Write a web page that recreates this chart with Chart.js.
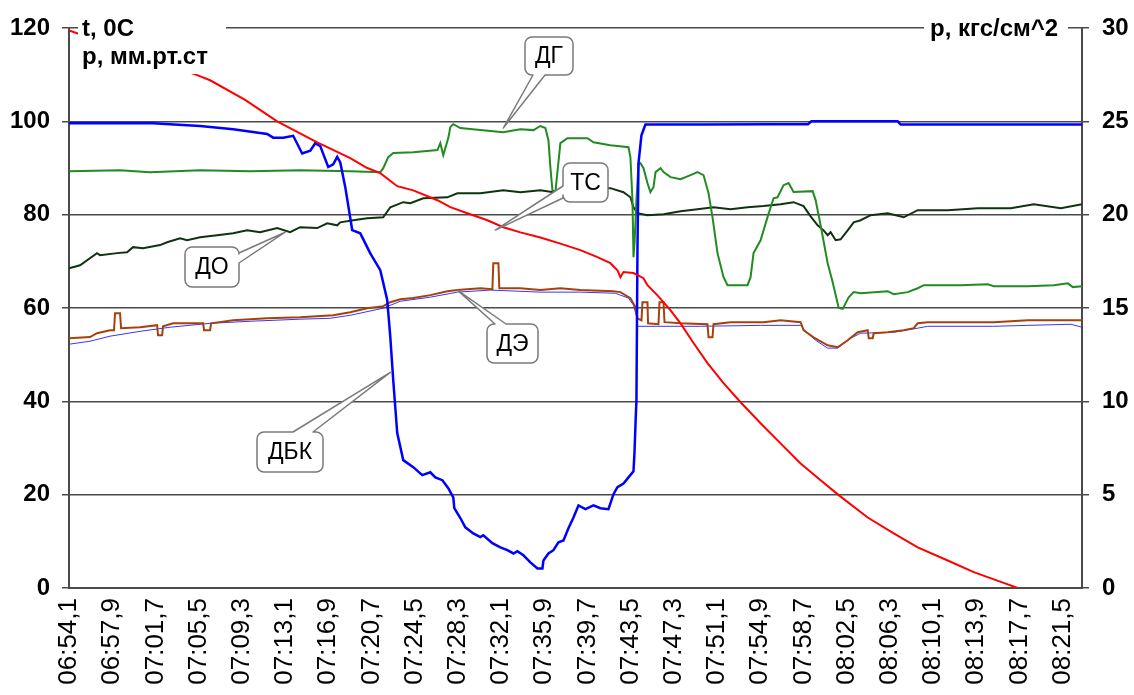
<!DOCTYPE html>
<html>
<head>
<meta charset="utf-8">
<script src="https://cdn.jsdelivr.net/npm/chart.js@4.4.1/dist/chart.umd.min.js"></script>
<style>
  html, body { margin: 0; padding: 0; background: #fff; }
  canvas { display: block; }
</style>
</head>
<body>
<canvas id="chart" width="1134" height="695"></canvas>
<script>
// Time axis: minutes since 06:54,1; a label every 3,8 min
const tickLabels = ['06:54,1','06:57,9','07:01,7','07:05,5','07:09,3','07:13,1','07:16,9','07:20,7',
  '07:24,5','07:28,3','07:32,1','07:35,9','07:39,7','07:43,5','07:47,3','07:51,1','07:54,9','07:58,7',
  '08:02,5','08:06,3','08:10,1','08:13,9','08:17,7','08:21,5'];
const tickMinutes = [0, 3.8, 7.6, 11.4, 15.2, 19.0, 22.8, 26.6, 30.4, 34.2, 38.0, 41.8, 45.6, 49.4,
  53.2, 57.0, 60.8, 64.6, 68.4, 72.2, 76.0, 79.8, 83.6, 87.4];
const timeMax = 89.1;

// ТС — temperature, °C (left axis)
const tsMin = [0, 11.27, 12.41, 15.49, 18.31, 21.83, 24.74, 26.23, 27.38, 28.87, 30.28, 32.40, 33.54,
  35.04, 36.80, 38.20, 39.70, 41.46, 43.22, 44.98, 46.48, 47.62, 48.24, 48.50, 48.77, 49.65, 50.53,
  50.88, 51.76, 52.91, 53.79, 54.93, 56.16, 57.57, 59.07, 60.83, 62.59, 64.35, 66.11, 67.70, 70.25,
  72.54, 74.65, 77.29, 79.58, 81.96, 83.45];
const tsVal = [119.5, 109.9, 108.8, 104.6, 100.0, 95.5, 92.1, 90.0, 88.9, 86.1, 85.2, 83.1, 81.6,
  80.3, 78.8, 77.3, 76.2, 75.1, 73.8, 72.4, 70.9, 69.6, 68.1, 66.6, 67.7, 67.5, 66.4,
  64.9, 62.7, 59.5, 56.7, 52.5, 48.2, 43.9, 39.8, 35.3, 31.0, 26.7, 23.1, 19.9, 15.1,
  11.7, 8.7, 5.9, 3.4, 1.3, 0];

// ДБК — pressure, мм.рт.ст (left axis)
const dbkMin = [0, 7.39, 11.53, 14.44, 17.43, 17.96, 18.84, 19.72, 20.51, 21.22, 21.66, 22.10, 22.80,
  23.24, 23.59, 23.86, 24.30, 24.91, 25.62, 26.50, 27.38, 27.99, 28.26, 28.52, 28.87, 29.40, 30.28,
  31.07, 31.78, 32.22, 32.84, 33.36, 33.80, 33.89, 34.42, 34.86, 35.56, 36.18, 36.44, 37.24, 37.94,
  38.56, 39.09, 39.44, 39.97, 40.58, 41.20, 41.64, 41.73, 42.17, 42.61, 43.05, 43.49, 43.93, 44.37,
  44.81, 45.42, 46.13, 46.74, 47.45, 47.89, 48.24, 48.77, 49.21, 49.65, 49.74, 49.83, 49.91, 50.00,
  50.09, 50.35, 50.70, 55.55, 61.71, 65.00, 65.30, 72.89, 73.15, 89.1];
const dbkVal = [99.6, 99.6, 99.0, 98.3, 97.3, 96.5, 96.5, 96.9, 93.1, 93.7, 95.3, 94.7, 90.2,
  90.8, 92.4, 91.2, 85.9, 76.7, 76.0, 71.7, 68.1, 61.7, 53.8, 44.5, 33.2, 27.4, 25.9,
  24.2, 24.8, 23.7, 23.1, 21.4, 19.4, 17.1, 15.0, 13.0, 11.7, 10.9, 11.3, 9.6, 8.7,
  8.1, 7.4, 7.9, 7.0, 5.5, 4.2, 4.2, 5.9, 7.4, 8.1, 9.8, 10.2, 12.8, 15.1,
  17.7, 16.9, 17.7, 17.1, 16.9, 20.1, 21.6, 22.4, 23.7, 25.0, 29.1, 35.3, 40.2, 72.4,
  91.0, 97.0, 99.3, 99.3, 99.4, 99.4, 100.0, 100.0, 99.3, 99.3];

// ДГ — pressure, кгс/см^2 (right axis)
const dgMin = [0, 4.49, 7.13, 11.53, 15.93, 20.33, 24.74, 27.38, 27.64, 28.08, 28.52, 30.28, 32.40,
  32.66, 32.92, 33.36, 33.54, 33.80, 34.42, 36.18, 38.20, 39.70, 40.85, 41.46, 41.90, 42.17, 42.34,
  42.52, 42.78, 43.22, 43.84, 45.60, 46.13, 47.62, 49.21, 49.38, 49.56, 49.65, 49.74, 49.91, 50.09,
  50.26, 50.53, 50.88, 51.14, 51.41, 51.59, 52.03, 52.29, 52.91, 53.79, 54.67, 55.28, 55.81, 56.25,
  56.60, 57.04, 57.57, 57.92, 59.68, 59.95, 60.21, 60.83, 61.44, 61.97, 62.32, 62.85, 63.29, 63.73,
  65.41, 65.67, 66.11, 66.73, 67.17, 67.70, 68.05, 68.58, 69.02, 69.63, 72.01, 72.54, 73.77, 74.65,
  75.18, 78.44, 80.81, 81.34, 84.33, 86.62, 87.85, 88.29, 89.1];
const dgVal = [22.33, 22.38, 22.27, 22.38, 22.33, 22.38, 22.33, 22.27, 22.49, 23.08, 23.30, 23.35, 23.46,
  23.83, 23.19, 24.10, 24.69, 24.85, 24.64, 24.53, 24.42, 24.58, 24.53, 24.75, 24.64, 23.99, 22.55,
  21.31, 21.21, 23.83, 24.10, 24.10, 23.88, 23.72, 23.61, 23.08, 20.78, 17.72, 18.47, 20.78, 22.71,
  22.76, 22.49, 21.69, 21.21, 21.47, 22.28, 22.49, 22.28, 22.01, 21.90, 22.12, 22.28, 22.12, 21.15,
  19.87, 17.94, 16.65, 16.22, 16.22, 16.65, 17.94, 18.63, 19.87, 20.88, 20.93, 21.58, 21.69, 21.21,
  21.26, 20.78, 19.43, 17.40, 16.38, 15.00, 14.95, 15.57, 15.85, 15.79, 15.90, 15.74, 15.85, 16.06,
  16.22, 16.22, 16.27, 16.17, 16.17, 16.22, 16.32, 16.12, 16.17];

// ДО — pressure, кгс/см^2 (right axis)
const doMin = [0, 0.97, 2.46, 2.73, 4.23, 5.11, 5.63, 6.51, 8.01, 8.63, 9.77, 10.39, 11.53, 13.03,
  14.44, 15.67, 16.81, 18.31, 19.45, 20.33, 21.83, 22.71, 23.59, 23.86, 25.00, 26.23, 27.64, 28.26,
  29.40, 30.02, 31.16, 33.28, 34.16, 36.18, 38.20, 39.70, 41.46, 42.61, 43.40, 47.62, 48.77, 49.38,
  49.65, 50.00, 50.88, 52.29, 53.79, 55.28, 56.69, 58.19, 59.68, 61.09, 62.59, 63.73, 64.61, 65.23,
  65.85, 66.37, 66.73, 66.99, 67.43, 67.87, 68.49, 69.02, 69.63, 70.51, 72.01, 73.42, 74.65, 77.29,
  79.93, 82.84, 84.86, 87.24, 89.1];
const doVal = [17.13, 17.29, 17.94, 17.83, 17.94, 17.99, 18.26, 18.20, 18.37, 18.52, 18.74, 18.63, 18.79, 18.90,
  19.01, 19.17, 19.06, 19.28, 19.06, 19.33, 19.28, 19.54, 19.43, 19.59, 19.70, 19.81, 19.86, 20.40,
  20.67, 20.61, 20.88, 20.93, 21.15, 21.15, 21.31, 21.20, 21.31, 21.20, 21.42, 21.42, 21.20, 20.93,
  20.40, 20.08, 19.97, 20.02, 20.18, 20.29, 20.40, 20.29, 20.40, 20.46, 20.56, 20.67, 20.46, 19.91,
  19.43, 19.16, 18.90, 19.06, 18.63, 18.68, 19.16, 19.59, 19.70, 19.97, 20.08, 19.86, 20.24, 20.24,
  20.35, 20.35, 20.56, 20.35, 20.56];

// ДЭ — pressure, кгс/см^2 (right axis)
const deMin = [0, 1.85, 2.46, 3.61, 3.96, 4.05, 4.49, 4.58, 6.25, 7.75, 7.83, 8.19, 8.27, 9.16, 11.80,
  11.88, 12.41, 12.50, 14.44, 17.43, 20.33, 23.24, 24.74, 26.23, 27.64, 28.26, 29.14, 30.28, 31.78,
  33.28, 34.16, 36.18, 37.24, 37.32, 37.77, 37.85, 39.70, 41.46, 43.22, 44.98, 47.89, 48.50, 49.38,
  49.83, 50.00, 50.35, 50.44, 50.88, 50.93, 51.85, 51.94, 52.29, 52.38, 53.79, 56.16, 56.25, 56.60,
  56.69, 58.19, 61.09, 62.59, 64.35, 64.61, 65.49, 66.73, 67.61, 68.49, 69.37, 70.25, 70.34, 70.69,
  70.78, 72.01, 73.42, 74.30, 74.65, 75.53, 78.44, 81.34, 84.33, 87.24, 89.1];
const deVal = [13.38, 13.44, 13.65, 13.81, 13.81, 14.72, 14.72, 13.92, 13.97, 14.08, 13.54, 13.54, 14.02, 14.18, 14.18,
  13.81, 13.81, 14.18, 14.34, 14.45, 14.51, 14.61, 14.77, 14.99, 15.10, 15.31, 15.47, 15.53, 15.69,
  15.90, 15.96, 16.06, 16.01, 17.40, 17.40, 16.06, 16.06, 15.96, 16.06, 15.96, 15.90, 15.85, 15.53,
  15.04, 14.45, 14.34, 15.31, 15.31, 14.18, 14.13, 15.31, 15.31, 14.24, 14.18, 14.13, 13.43, 13.43,
  14.13, 14.24, 14.24, 14.34, 14.24, 13.81, 13.43, 13.00, 12.90, 13.27, 13.70, 13.81, 13.38, 13.38,
  13.65, 13.70, 13.81, 13.92, 14.18, 14.24, 14.24, 14.24, 14.34, 14.34, 14.34];

// Second ДЭ trace (thin line under ДЭ), кгс/см^2 (right axis)
const de2Min = [0, 1.85, 3.61, 6.25, 8.89, 12.41, 15.93, 20.33, 22.98, 24.74, 27.64, 29.14, 31.78,
  34.16, 37.06, 41.46, 44.98, 48.06, 49.21, 49.65, 49.91, 50.00, 55.55, 60.83, 64.35, 64.79, 65.67,
  66.73, 67.61, 68.75, 69.63, 72.54, 74.65, 75.53, 81.34, 84.33, 88.12, 89.1];
const de2Val = [13.06, 13.22, 13.49, 13.75, 13.97, 14.18, 14.29, 14.40, 14.45, 14.61, 14.99, 15.36, 15.58,
  15.85, 15.96, 15.85, 15.85, 15.79, 15.53, 15.15, 14.56, 14.02, 14.02, 14.07, 14.07, 13.75, 13.27,
  12.85, 12.85, 13.38, 13.65, 13.70, 13.92, 14.02, 14.02, 14.07, 14.13, 13.97];

const pts = (xs, ys) => xs.map((x, i) => ({ x, y: ys[i] }));

// Callout labels: box in canvas pixels, wedge tip anchored to a data point
const callouts = [
  { text: 'ДГ',  box: [525, 37, 48, 38],  side: 'bottom', base: [533, 545], at: [38.20, 24.64], axis: 'y1' },
  { text: 'ТС',  box: [563, 163, 45, 39], side: 'left',   base: [186, 198], at: [37.50, 76.7],  axis: 'y'  },
  { text: 'ДО',  box: [185, 247, 54, 40], side: 'right',  base: [253, 263], at: [19.01, 19.06], axis: 'y1' },
  { text: 'ДЭ',  box: [487, 324, 51, 39], side: 'top',    base: [495, 506], at: [34.16, 15.96], axis: 'y1' },
  { text: 'ДБК', box: [257, 432, 66, 40], side: 'top',    base: [293, 313], at: [28.26, 46.2],  axis: 'y'  }
];

const FONT = '"Liberation Sans", Arial, sans-serif';
const GRID = '#4a4a4a';

function calloutPath(ctx, c, tip) {
  const [x, y, w, h] = c.box;
  const R = x + w, B = y + h, r = 7;
  const [a0, a1] = c.base;
  ctx.beginPath();
  ctx.moveTo(x + r, y);
  if (c.side === 'top') { ctx.lineTo(a0, y); ctx.lineTo(tip.x, tip.y); ctx.lineTo(a1, y); }
  ctx.lineTo(R - r, y);
  ctx.arcTo(R, y, R, y + r, r);
  if (c.side === 'right') { ctx.lineTo(R, a0); ctx.lineTo(tip.x, tip.y); ctx.lineTo(R, a1); }
  ctx.lineTo(R, B - r);
  ctx.arcTo(R, B, R - r, B, r);
  if (c.side === 'bottom') { ctx.lineTo(a1, B); ctx.lineTo(tip.x, tip.y); ctx.lineTo(a0, B); }
  ctx.lineTo(x + r, B);
  ctx.arcTo(x, B, x, B - r, r);
  if (c.side === 'left') { ctx.lineTo(x, a1); ctx.lineTo(tip.x, tip.y); ctx.lineTo(x, a0); }
  ctx.lineTo(x, y + r);
  ctx.arcTo(x, y, x + r, y, r);
  ctx.closePath();
}

const overlay = {
  id: 'overlay',
  afterDatasetsDraw(chart) {
    const ctx = chart.ctx;
    const sx = chart.scales.x;
    ctx.save();
    // axis titles on white panels over the top grid line
    ctx.fillStyle = '#fff';
    ctx.fillRect(78, 10, 148, 64);
    ctx.fillRect(924, 10, 144, 34);
    ctx.fillStyle = '#000';
    ctx.font = 'bold 24px ' + FONT;
    ctx.textAlign = 'left';
    ctx.textBaseline = 'alphabetic';
    ctx.fillText('t, 0C', 82, 36);
    ctx.fillText('p, мм.рт.ст', 82, 64);
    ctx.fillText('p, кгс/см^2', 930, 36);

    // callouts
    ctx.lineWidth = 1.5;
    ctx.lineJoin = 'round';
    for (const c of callouts) {
      const tip = { x: sx.getPixelForValue(c.at[0]), y: chart.scales[c.axis].getPixelForValue(c.at[1]) };
      calloutPath(ctx, c, tip);
      ctx.fillStyle = '#fff';
      ctx.fill();
      ctx.strokeStyle = '#7a7a7a';
      ctx.stroke();
      ctx.fillStyle = '#000';
      ctx.font = '23px ' + FONT;
      ctx.textAlign = 'center';
      ctx.textBaseline = 'middle';
      ctx.fillText(c.text, c.box[0] + c.box[2] / 2, c.box[1] + c.box[3] / 2 + 1);
    }
    ctx.restore();
  }
};

const line = (label, xs, ys, color, width, axis) => ({
  label, data: pts(xs, ys), borderColor: color, borderWidth: width,
  yAxisID: axis, pointRadius: 0, tension: 0, fill: false
});

new Chart(document.getElementById('chart'), {
  type: 'line',
  data: {
    datasets: [
      line('ТС', tsMin, tsVal, '#ff0000', 2, 'y'),
      line('ДБК', dbkMin, dbkVal, '#0000ff', 2.5, 'y'),
      line('ДГ', dgMin, dgVal, '#228b22', 2, 'y1'),
      line('ДО', doMin, doVal, '#0f330f', 2, 'y1'),
      line('ДЭ', deMin, deVal, '#a8400c', 2, 'y1'),
      line('ДЭ-2', de2Min, de2Val, '#3535ff', 1, 'y1')
    ]
  },
  options: {
    responsive: false,
    animation: false,
    layout: { padding: { top: 28, left: 0, right: 0, bottom: 0 } },
    plugins: { legend: { display: false }, tooltip: { enabled: false } },
    scales: {
      x: {
        type: 'linear', min: 0, max: timeMax,
        afterBuildTicks: s => { s.ticks = tickMinutes.map(v => ({ value: v })); },
        afterFit: s => { s.height = 107; },
        grid: { display: true, drawOnChartArea: false, drawTicks: false },
        border: { display: true, color: GRID, width: 2 },
        ticks: {
          autoSkip: false, minRotation: 90, maxRotation: 90, padding: 10, color: '#000',
          font: { family: FONT, size: 26 },
          callback: (v, i) => tickLabels[i]
        }
      },
      y: {
        position: 'left', min: 0, max: 120,
        afterFit: s => { s.width = 69; },
        grid: { color: GRID, lineWidth: 1.5, tickLength: 7 },
        border: { display: true, color: GRID, width: 2 },
        ticks: { stepSize: 20, padding: 12, color: '#000', font: { family: FONT, size: 24, weight: 'bold' } }
      },
      y1: {
        position: 'right', min: 0, max: 30,
        afterFit: s => { s.width = 52; },
        grid: { drawOnChartArea: false, color: GRID, lineWidth: 1.5, tickLength: 7 },
        border: { display: true, color: GRID, width: 2 },
        ticks: { stepSize: 5, padding: 13, color: '#000', font: { family: FONT, size: 24, weight: 'bold' } }
      }
    }
  },
  plugins: [overlay]
});
</script>
</body>
</html>
